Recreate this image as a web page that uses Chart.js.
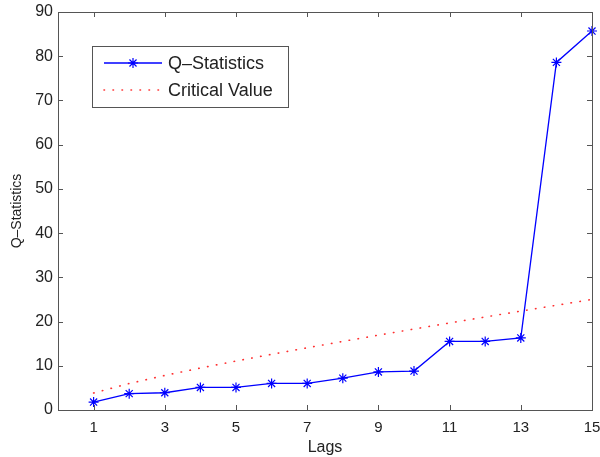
<!DOCTYPE html>
<html>
<head>
<meta charset="utf-8">
<script src="https://cdn.jsdelivr.net/npm/chart.js@4/dist/chart.umd.min.js"></script>
<style>
  body { margin: 0; background: #fff; }
  #wrap { width: 600px; height: 457px; position: relative; }
</style>
</head>
<body>
<div id="wrap"><canvas id="qChart"></canvas></div>
<script>
// values
const lags = [1, 2, 3, 4, 5, 6, 7, 8, 9, 10, 11, 12, 13, 14, 15];
const qStats = [1.8, 3.7, 3.9, 5.1, 5.1, 6.0, 6.0, 7.2, 8.6, 8.8, 15.5, 15.5, 16.3, 78.6, 85.7];
const critical = [3.84, 5.99, 7.81, 9.49, 11.07, 12.59, 14.07, 15.51, 16.92, 18.31, 19.68, 21.03, 22.36, 23.68, 25.0];
const xTicks = [1, 3, 5, 7, 9, 11, 13, 15];

const FONT = '"Liberation Sans", Arial, sans-serif';
const BLUE = '#0000ff';
const RED = '#ff3030';
const FRAME = '#555';

const toPoints = (ys) => {
  let pts = [];
  for (let i = 0; i < lags.length; i++) {
    pts.push({ x: lags[i], y: ys[i] });
  }
  return pts;
};

const drawStar = (ctx, x, y, r) => {
  ctx.beginPath();
  for (let a = 0; a < 4; a++) {
    let ang = a * Math.PI / 4;
    ctx.moveTo(x - r * Math.cos(ang), y - r * Math.sin(ang));
    ctx.lineTo(x + r * Math.cos(ang), y + r * Math.sin(ang));
  }
  ctx.stroke();
};

// box round the axes, with inward ticks on all four sides (matlab look)
const framePlugin = {
  id: 'frame',
  afterDraw(chart) {
    const ctx = chart.ctx;
    const a = chart.chartArea;
    const xs = chart.scales.x, ys = chart.scales.y;
    ctx.save();
    ctx.strokeStyle = FRAME;
    ctx.lineWidth = 1;
    ctx.strokeRect(Math.round(a.left) + 0.5, Math.round(a.top) + 0.5,
      Math.round(a.right - a.left), Math.round(a.bottom - a.top));
    ctx.beginPath();
    xs.ticks.forEach(t => {
      const px = Math.round(xs.getPixelForValue(t.value)) + 0.5;
      ctx.moveTo(px, a.bottom); ctx.lineTo(px, a.bottom - 5);
      ctx.moveTo(px, a.top); ctx.lineTo(px, a.top + 5);
    });
    ys.ticks.forEach(t => {
      const py = Math.round(ys.getPixelForValue(t.value)) + 0.5;
      ctx.moveTo(a.left, py); ctx.lineTo(a.left + 5, py);
      ctx.moveTo(a.right, py); ctx.lineTo(a.right - 5, py);
    });
    ctx.stroke();
    ctx.restore();
  }
};

// legend box sitting inside the plot, top left
const legendPlugin = {
  id: 'boxLegend',
  afterDraw(chart) {
    const ctx = chart.ctx;
    const ds = chart.data.datasets;
    const bx = 92, by = 46, bw = 196, bh = 61;
    ctx.save();
    ctx.fillStyle = '#fff';
    ctx.fillRect(bx, by, bw, bh);
    ctx.strokeStyle = FRAME;
    ctx.lineWidth = 1;
    ctx.strokeRect(bx + 0.5, by + 0.5, bw, bh);

    const rows = [63, 90];
    ds.forEach((d, i) => {
      const y = rows[i];
      ctx.strokeStyle = d.borderColor;
      ctx.lineWidth = d.borderWidth;
      ctx.setLineDash(d.borderDash || []);
      ctx.lineCap = d.borderDash ? 'round' : 'butt';
      ctx.beginPath();
      ctx.moveTo(104, y); ctx.lineTo(162, y);
      ctx.stroke();
      ctx.setLineDash([]);
      if (d.pointStyle === 'star') {
        ctx.lineWidth = 1.2;
        drawStar(ctx, 133, y, 5);
      }
      ctx.fillStyle = '#222';
      ctx.font = '18px ' + FONT;
      ctx.textBaseline = 'middle';
      ctx.fillText(d.label, 168, y + 1);
    });
    ctx.restore();
  }
};

const ctx = document.getElementById('qChart').getContext('2d');
const qChart = new Chart(ctx, {
  type: 'line',
  data: {
    datasets: [{
      label: 'Q\u2013Statistics',
      data: toPoints(qStats),
      borderColor: BLUE,
      borderWidth: 1.3,
      pointStyle: 'star',
      pointRadius: 5,
      pointBorderWidth: 1.2,
      pointBorderColor: BLUE,
      pointBackgroundColor: BLUE,
      tension: 0,
      clip: false
    }, {
      label: 'Critical Value',
      data: toPoints(critical),
      borderColor: RED,
      borderWidth: 1.6,
      borderDash: [0.5, 8.5],
      borderCapStyle: 'round',
      pointRadius: 0,
      tension: 0
    }]
  },
  options: {
    responsive: true,
    maintainAspectRatio: false,
    animation: false,
    layout: { padding: { top: 12, right: 8, left: 0, bottom: 0 } },
    plugins: {
      legend: { display: false },
      tooltip: { enabled: false }
    },
    scales: {
      x: {
        type: 'linear',
        min: 0,
        max: 15,
        afterBuildTicks: (scale) => {
          scale.ticks = xTicks.map(v => ({ value: v }));
        },
        afterFit: (scale) => {
          scale.height = 47;
          scale.paddingLeft = 0;
          scale.paddingRight = 0;
        },
        grid: { display: false, drawTicks: false },
        border: { display: false },
        ticks: {
          padding: 9,
          color: '#222',
          font: { family: FONT, size: 15 },
          maxRotation: 0,
          autoSkip: false
        },
        title: {
          display: true,
          text: 'Lags',
          color: '#222',
          font: { family: FONT, size: 16 },
          padding: { top: 1, bottom: 0 }
        }
      },
      y: {
        min: 0,
        max: 90,
        afterFit: (scale) => {
          scale.width = 58;
          scale.paddingTop = 0;
          scale.paddingBottom = 0;
        },
        grid: { display: false, drawTicks: false },
        border: { display: false },
        ticks: {
          stepSize: 10,
          padding: 5,
          color: '#222',
          font: { family: FONT, size: 16 }
        },
        title: {
          display: true,
          text: 'Q\u2013Statistics',
          color: '#222',
          font: { family: FONT, size: 14 },
          padding: { top: 9, bottom: 0 }
        }
      }
    }
  },
  plugins: [framePlugin, legendPlugin]
});
</script>
</body>
</html>
